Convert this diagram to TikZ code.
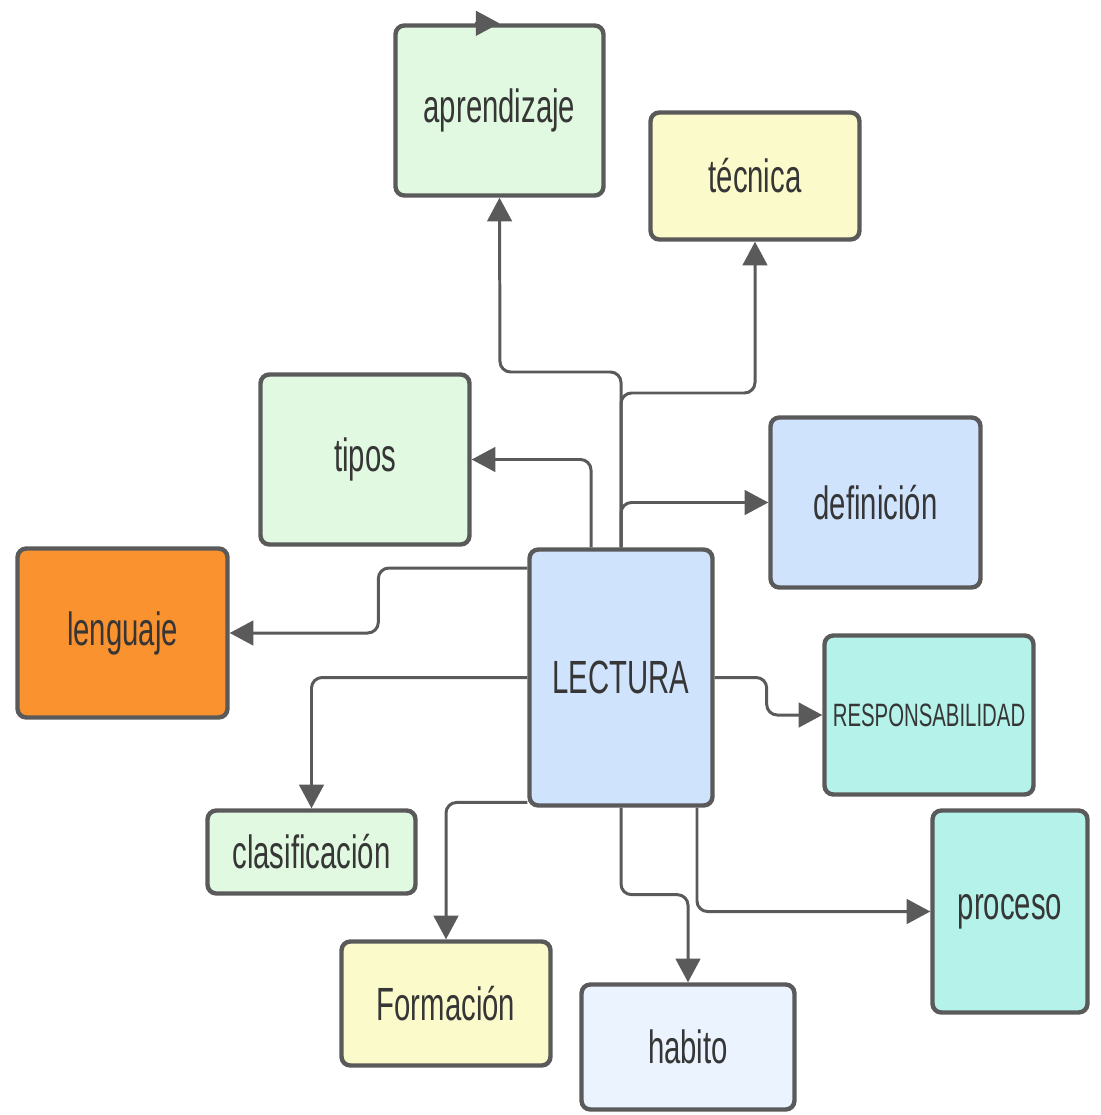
\documentclass[tikz,border=0pt]{standalone}
\usepackage{fontspec}
\newfontfamily\mapfont[FakeStretch=0.63]{Liberation Sans}
\usetikzlibrary{arrows.meta,positioning,calc}
\definecolor{edgegray}{HTML}{5A5A5A}
\definecolor{txtgray}{HTML}{363636}
\definecolor{mgreen}{HTML}{E0F9E0}
\definecolor{myellow}{HTML}{FBFACB}
\definecolor{mblue}{HTML}{CFE3FD}
\definecolor{mpale}{HTML}{EBF4FE}
\definecolor{morange}{HTML}{F9922F}
\definecolor{mteal}{HTML}{B5F3EA}

\begin{document}
\begin{tikzpicture}
[x=0.02cm,y=-0.02cm,
concept/.style={draw=edgegray,line width=2.5pt,rounded corners=5pt,inner sep=0pt,
  text=txtgray,font=\mapfont\fontsize{26.5}{30}\selectfont},
small/.style={font=\mapfont\fontsize{18.4}{21}\selectfont},
link/.style={draw=edgegray,line width=1.7pt,rounded corners=6pt,
  -{Triangle[length=13.5pt,width=14pt]}}]
\useasboundingbox (0,0) rectangle (1100,1115);
%%
% boxes
%%
\node[concept,fill=mgreen,minimum width=4.16cm,minimum height=3.4cm] at (499.5,110.5) (aprend) {aprendizaje};
\node[concept,fill=myellow,minimum width=4.18cm,minimum height=2.54cm] at (755,176) (tecnica) {técnica};
\node[concept,fill=mgreen,minimum width=4.18cm,minimum height=3.4cm] at (365,459.5) (tipos) {tipos};
\node[concept,fill=mblue,minimum width=4.2cm,minimum height=3.4cm] at (875.5,502.5) (defin) {definición};
\node[concept,fill=morange,minimum width=4.2cm,minimum height=3.38cm] at (122.5,633) (lenguaje) {lenguaje};
\node[concept,fill=mblue,minimum width=3.66cm,minimum height=5.12cm] at (621,677.5) (lectura) {LECTURA};
\node[concept,small,fill=mteal,minimum width=4.18cm,minimum height=3.18cm] at (929,715) (respons) {RESPONSABILIDAD};
\node[concept,fill=mgreen,minimum width=4.16cm,minimum height=1.66cm] at (311.5,852) (clasif) {clasificación};
\node[concept,fill=myellow,minimum width=4.18cm,minimum height=2.48cm] at (446,1003.5) (formacion) {Formación};
\node[concept,fill=mpale,minimum width=4.26cm,minimum height=2.5cm] at (688,1047) (habito) {habito};
\node[concept,fill=mteal,minimum width=3.1cm,minimum height=4.04cm] at (1010,911.5) (proceso) {proceso};
%%
% upwards
%%
\coordinate (a1) at (500,372);
\coordinate (t1) at (755,393);
\draw[link] (lectura.north) |- (a1) -- (aprend.south);
\draw[link] (lectura.north) |- (t1) -- (tecnica.south);
\draw[link] (lectura.north) |- (defin.west);
\draw[link] ([xshift=-0.6cm]lectura.north) |- (tipos.east);
\draw[link] ([xshift=-0.5cm]aprend.north) -- (aprend.north);
%%
% left side
%%
\draw[link] ([yshift=2.19cm]lectura.west) -- ++(-149,0) |- (lenguaje.east);
\draw[link] (lectura.west) -| (clasif.north);
\draw[link] ([yshift=-2.5cm]lectura.west) -| (formacion.north);
%%
% right side and below
%%
\draw[link] (lectura.east) -- ++(52,0) |- (respons.west);
\draw[link] (lectura.south) -- ++(0,87) -| (habito.north);
\draw[link] ([xshift=1.52cm]lectura.south) |- (proceso.west);
\end{tikzpicture}
\end{document}
